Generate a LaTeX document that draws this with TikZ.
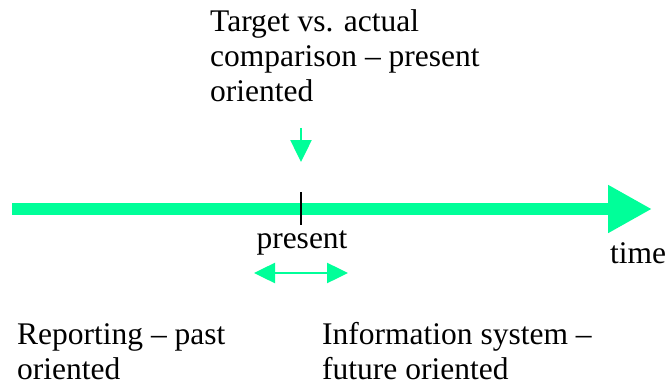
\documentclass[tikz,border=0pt]{standalone}
\usepackage{fontspec}
\setmainfont{Liberation Serif}
\usetikzlibrary{arrows.meta}
\definecolor{springgreen}{RGB}{0,255,153}
\tikzset{
  label text/.style={inner sep=0pt, align=left, font=\fontsize{31.5}{35}\selectfont},
  timeline/.style={draw=springgreen, line width=12pt, -{Triangle[length=44pt,width=45pt]}},
  pointer/.style={draw=springgreen, line width=2.5pt, -{Triangle[length=22pt,width=21pt]}},
  span/.style={draw=springgreen, line width=2.5pt, {Triangle[length=21pt,width=20pt]}-{Triangle[length=21pt,width=20pt]}}
}
\begin{document}
\begin{tikzpicture}[x=1pt,y=-1pt]
  \useasboundingbox (0,0) rectangle (666,385);
  % time axis
  \coordinate (axisstart) at (12,209);
  \coordinate (axisend) at (652,209);
  \draw[timeline] (axisstart) -- (axisend);
  % marker for the present moment
  \coordinate (ticktop) at (301,192);
  \coordinate (tickbot) at (301,225);
  \draw[black, line width=1.3pt] (ticktop) -- (tickbot);
  % captions (anchored at the baseline of their last line)
  \node[label text, anchor=base west] (target) at (210,102) {Target vs. actual\\comparison -- present\\oriented};
  \node[label text, anchor=base] (present) at (302,248) {present};
  \node[label text, anchor=base west] (time) at (610,263) {time};
  \node[label text, anchor=base west] (reporting) at (17,379) {Reporting -- past\\oriented};
  \node[label text, anchor=base west] (infosys) at (322,379) {Information system --\\future oriented};
  % arrow down to the present
  \coordinate (downtop) at (301,128);
  \coordinate (downtip) at (301,162);
  \draw[pointer] (downtop) -- (downtip);
  % range around the present
  \coordinate (spanleft) at (254,273);
  \coordinate (spanright) at (348,273);
  \draw[span] (spanleft) -- (spanright);
\end{tikzpicture}
\end{document}
